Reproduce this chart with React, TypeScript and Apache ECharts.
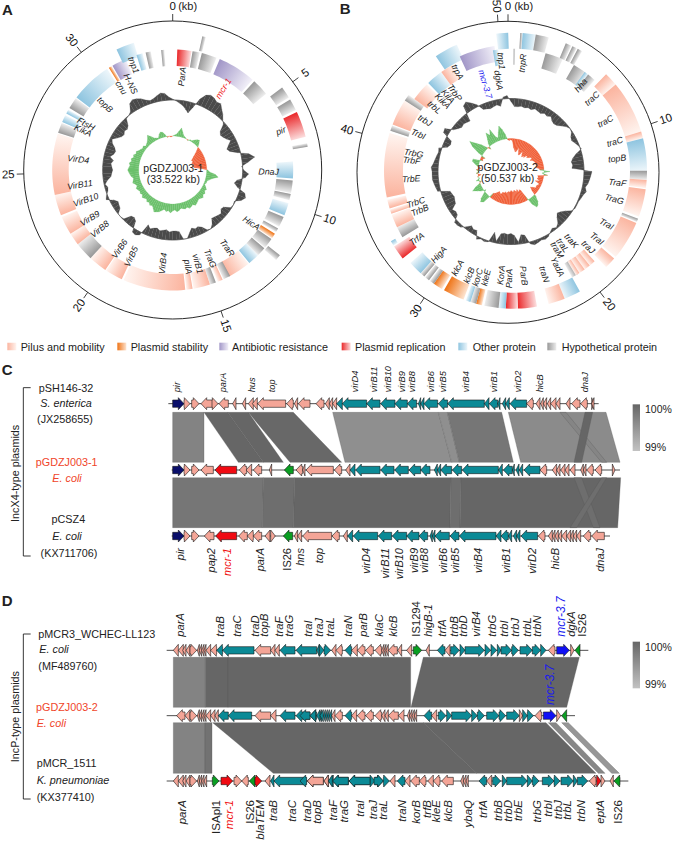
import React, { useEffect, useRef } from "react";
import * as echarts from "echarts";

const FONT = "Liberation Sans";

// ---------- circular maps ----------
const lengthA = 33.522;
const lengthB = 50.537;
const tickLabelsA = [0, 5, 10, 15, 20, 25, 30];
const tickLabelsB = [0, 10, 20, 30, 40, 50];

const CAT: any = {
  P: ["#fbb5a0", "#fff3ee"],
  S: ["#ef7417", "#fde3cf"],
  A: ["#a297c8", "#f1eff8"],
  R: ["#ea2a2c", "#fcdcdc"],
  O: ["#8fc5e0", "#ebf5fa"],
  H: ["#999999", "#ececec"],
};
const legendNames = [
  ["P", "Pilus and mobility"],
  ["S", "Plasmid stability"],
  ["A", "Antibiotic resistance"],
  ["R", "Plasmid replication"],
  ["O", "Other protein"],
  ["H", "Hypothetical protein"],
];

// [saturated end, pale end, category, track] in degrees round the plasmid
const genesA: any[] = [
  [2.2, 9, "R", 0], [9.5, 13, "H", 0], [12.5, 14, "H", 1], [14, 21.3, "H", 0], [23, 41.5, "A", 0], [42.6, 50.8, "H", 0],
  [53, 58, "H", 1], [59, 64, "H", 1], [65, 76, "R", 1], [80.2, 78.7, "H", 1], [94, 86, "O", 0], [95, 101, "H", 0],
  [101.5, 104.5, "H", 0], [112, 106, "O", 0], [113, 118, "H", 0], [119, 121, "H", 0], [122, 124.5, "S", 0], [125, 130, "H", 0],
  [128.5, 131, "H", 1], [130.5, 135, "H", 0], [140.5, 135, "O", 0], [152, 141, "P", 0], [151.5, 155, "H", 0], [155.5, 158, "P", 0],
  [159, 162, "H", 0], [162, 170, "P", 0], [170.5, 173.5, "P", 0], [174, 204, "P", 0], [205, 213.5, "P", 0], [214, 223, "P", 0],
  [223, 232, "H", 0], [232, 238, "P", 0], [238, 247, "P", 0], [248, 258, "P", 0], [258, 287.5, "P", 0], [288, 293, "H", 0],
  [293.5, 297, "O", 0], [298, 300, "O", 0], [301, 306.5, "H", 0], [307, 327, "O", 0], [328, 329.5, "S", 0], [330, 337, "A", 0],
  [335, 343, "O", 2], [342.5, 345.5, "O", 0], [347, 349.5, "H", 0], [354.5, 356, "H", 0],
];
const genesB: any[] = [
  [358, 353, "O", 1], [0.3, 1, "H", 0], [3, 4, "H", 1], [4, 9.5, "O", 1], [9.5, 15, "H", 1], [15.5, 24, "H", 0],
  [22.5, 25, "H", 1], [25.5, 27.5, "H", 1], [28, 30, "H", 1], [30, 37, "H", 0], [36, 38, "O", 0], [38, 42, "H", 0],
  [44, 50, "P", 2], [50, 73, "P", 2], [73, 76, "P", 2], [76, 90, "O", 2], [90, 94, "H", 2], [94, 97.5, "P", 2],
  [98, 110, "P", 2], [111, 112.5, "H", 2], [113, 130, "P", 2], [131, 136, "P", 2], [148, 151, "H", 0], [138, 141, "P", 0],
  [141, 144, "P", 0], [144, 147, "P", 0], [147, 149, "P", 0], [151, 158, "O", 1], [158, 165, "P", 1], [178, 170, "R", 1],
  [183, 178, "R", 1], [183, 186, "O", 1], [186, 192, "H", 1], [195.5, 193, "S", 1], [195.5, 198, "H", 1], [198, 200, "O", 1],
  [210, 201, "S", 1], [215, 211, "S", 1], [215, 217, "H", 1], [217.5, 219.5, "H", 1], [220, 222, "H", 1], [222, 228, "O", 1],
  [240, 238, "O", 3], [231.5, 237.5, "R", 5], [239, 244, "H", 4], [244, 250, "P", 4], [250.5, 252.5, "P", 4], [253, 257, "P", 4],
  [258, 287, "P", 4], [288, 290.5, "H", 4], [291, 303, "P", 4], [303, 306, "H", 4], [306, 315, "P", 0], [316, 324, "O", 0],
  [324, 330, "P", 0], [326, 336, "O", 1], [335, 351.5, "A", 6], [350.5, 353, "O", 0],
];
const tracksA = [[104, 120.5], [122, 137], [118, 133]];
const tracksB = [[106, 122], [122, 138], [117, 134], [136, 141], [110, 129], [123, 141], [110, 126]];

// [name, degrees, distance from centre]
const labelsA: any[] = [
  ["ParA", 5.7, 94], ["mcr-1", 31.8, 96], ["pir", 70, 115], ["DnaJ", 91, 96], ["HicA", 124, 95], ["TraR", 145, 95],
  ["TraG", 157, 96], ["virB1", 165, 97], ["pilA", 171, 98], ["VirB4", 186, 94], ["VirB5", 205.7, 96], ["VirB6", 214, 95],
  ["VirB8", 231, 94], ["VirB9", 239.7, 96], ["VirB10", 251, 92], ["VirB11", 261, 94], ["VirD4", 276.5, 95], ["KikA", 293.8, 98],
  ["FtsH", 298, 98], ["topB", 314, 94], ["cnu", 328, 97], ["H-NS", 334, 96], ["tnp1", 339.6, 112],
];
const labelsB: any[] = [
  ["tnp1", 355, 111], ["tnpR", 6, 109], ["dgkA", 352.3, 92], ["mcr-3.7", 343.6, 91], ["trpA", 331.8, 113], ["TrbP", 324.5, 97],
  ["KilA", 320, 98], ["KikA", 315.8, 98], ["trbL", 310, 100], ["trbJ", 300.7, 100], ["TrbI", 292, 100], ["TrbG", 280.6, 99],
  ["TrbF", 276.3, 100], ["TrbE", 265.8, 100], ["TrbC", 252, 100], ["TrbB", 247, 99], ["TrfA", 234.4, 116], ["HigA", 221, 110],
  ["klcA", 209, 110], ["klcB", 202, 112], ["korC", 197.5, 111], ["kleE", 193.3, 109], ["KorA", 185.5, 104], ["ParA", 181, 107],
  ["ParB", 173, 105], ["traN", 162, 108], ["YadA", 154, 106], ["traM", 149.6, 91], ["traL", 145, 90], ["traK", 139, 92],
  ["traJ", 134.4, 108], ["TraI", 128, 109], ["TraI", 118.7, 109], ["TraG", 105, 107], ["TraF", 96, 107], ["topB", 83, 107],
  ["traC", 74, 108], ["traC", 62, 107], ["traC", 48, 109], ["hha", 39, 111],
];

// signed values, one every 3 degrees
const gcContentA = [
  1, -1, -3, -5, -8, -11, -4, 6, 12, 14, 13, 11, 12, 8, 5, 1, -2, -9, -11, -10,
  -8, -5, -9, -12, -10, -3, 8, 13, 6, -1, 1, 6, 3, -5, -7, -3, 6, 8, 5, -1,
  0, -1, -7, -8, -5, -6, -7, -8, -3, 0, -1, -6, -8, -7, -9, -5, 0, 0, -8, -9,
  -9, -8, -10, -9, -8, -10, -9, -7, -10, 3, 5, 4, -7, -9, -8, -1, 0, 0, -5, -6,
  -7, -4, 3, 1, -2, -3, -1, -4, -8, -9, -10, -9, -8, -10, -6, -9, -10, -8, -4, -2,
  -6, -9, -10, -8, -9, -7, -1, 0, 2, 9, 11, 10, 8, 5, 3, 4, 6, 8, 7, 3,
];
const gcContentB = [
  -3, -8, -8, -7, -8, -7, -8, -6, -7, -8, -6, -7, -5, -8, -9, -8, -5, -2, 0, -1,
  -4, -5, -3, -1, 1, -6, -10, -12, -11, -12, 8, 7, 6, 5, 3, 5, 3, 2, 1, 1,
  1, -1, -6, -9, -11, -8, -3, -1, -3, -1, 2, 3, 2, 3, 4, 2, -8, -9, -2, -9,
  -11, -10, -11, -10, -2, -10, 1, 2, 1, 3, -5, -4, -6, -2, 2, 3, 3, -4, -5, -3,
  -9, -10, -11, -10, -9, 3, 4, 5, 6, 6, 6, 7, 5, 4, 3, 2, 3, -5, -7, -6,
  5, 6, -2, -5, -7, -6, -7, -8, 8, 10, 6, 2, -5, -6, -7, -6, -5, -7, 2, 3,
];
const gcSkewA = [
  0, 1, 2, 5, 9, 5, 2, 1, 0, -1, 1, 1, 3, 5, 6, 3, 0, -3, -6, -9,
  -11, -13, -12, -13, -14, -13, -13, -14, -12, -6, 1, 3, 9, 12, 7, 4, 2, 2, 1, 3,
  5, 4, 6, 5, 7, 6, 5, 6, 7, 8, 6, 7, 8, 6, 7, 6, 5, 7, 8, 6,
  7, 9, 7, 8, 6, 8, 10, 11, 12, 9, 7, 8, 6, 7, 5, 6, 7, 5, 6, 5,
  6, 7, 5, 6, 8, 7, 6, 8, 9, 10, 11, 10, 9, 10, 8, 9, 7, 8, 6, 7,
  5, 4, 3, 4, 2, 3, 4, 6, 9, 6, 3, 2, 1, 4, 6, 5, 2, -1, 0, -1,
];
const gcSkewB = [
  -1, -3, -9, -11, -13, -12, -8, -12, -15, -14, -10, -13, -15, -13, -14, -10, -12, -11, -9, -8,
  -11, -9, -8, -7, -9, -6, -7, -8, -5, -4, 6, -2, 4, -6, -5, -6, -3, -7, -2, -3,
  -4, -3, -6, -8, -5, 2, 7, 10, 11, 6, -5, -12, -13, -11, -14, -12, -13, -14, -12, -13,
  -14, -12, -13, -12, -11, -12, -10, -11, -8, -9, -10, -8, -6, -5, 8, 10, 7, 2, -2, 3,
  6, 10, 6, 1, -2, 3, -1, 1, -3, 2, -1, 2, -3, 1, 4, 7, 7, -3, -2, -4,
  5, 13, 18, 12, 7, 1, -3, 3, 7, 13, 9, 14, 5, 3, 8, 14, 10, 5, -1, -2,
];

// ---------- linear maps (positions are map units) ----------
const rowsC = [1211, 1410, 1608];
const rowsD = [1951, 2147, 2343];
const spansC = [[505, 1796], [515, 1860], [515, 1830]];
const spansD = [[500, 1765], [500, 1725], [500, 1885]];

// [tail, head, kind]; the first list of a row holds left-hand readings, the second is shifted by 900
const C1a: any[] = [[518, 552, "n"], [552, 570, "s"], [575, 597, "s"], [640, 603, "s"], [636, 654, "s"], [685, 657, "s"], [708, 698, "s"], [737, 727, "s"], [760, 745, "s"], [772, 757, "s"], [857, 773, "s"], [880, 860, "s"], [893, 883, "s"], [930, 895, "s"]];
const C1b: any[] = [[72, 48, "s"], [88, 76, "s"], [98, 88, "s"], [110, 98, "s"], [127, 110, "t"], [200, 127, "t"], [240, 200, "t"], [285, 242, "t"], [322, 285, "t"], [350, 322, "t"], [362, 355, "t"], [372, 362, "t"], [413, 372, "t"], [443, 415, "t"], [553, 443, "t"], [567, 553, "t"], [593, 568, "t"], [600, 593, "t"], [617, 607, "t"], [628, 617, "t"], [680, 630, "t"], [700, 680, "s"], [720, 708, "s"], [730, 722, "s"], [740, 730, "s"], [752, 742, "s"], [768, 752, "s"], [780, 768, "s"], [810, 798, "s"], [840, 815, "s"], [862, 842, "s"], [875, 882, "s"], [882, 875, "s"]];
const C2a: any[] = [[518, 552, "n"], [552, 570, "s"], [575, 597, "s"], [640, 603, "s"], [710, 645, "r"], [740, 718, "s"], [755, 738, "s"], [785, 760, "s"], [815, 808, "s"], [880, 853, "g"], [908, 888, "s"], [915, 908, "s"]];
const C2b: any[] = [[100, 18, "s"], [125, 103, "s"], [150, 137, "s"], [165, 150, "t"], [240, 167, "t"], [282, 242, "t"], [325, 284, "t"], [362, 327, "t"], [390, 362, "t"], [412, 403, "t"], [422, 412, "t"], [455, 422, "t"], [485, 457, "t"], [595, 487, "t"], [607, 595, "t"], [637, 610, "t"], [643, 637, "t"], [657, 648, "t"], [668, 658, "t"], [720, 672, "t"], [740, 720, "s"], [770, 757, "s"], [780, 770, "s"], [795, 782, "s"], [807, 795, "s"], [825, 810, "s"], [850, 842, "s"], [858, 850, "s"], [880, 860, "s"], [905, 885, "s"], [937, 945, "s"]];
const C3a: any[] = [[518, 552, "n"], [552, 570, "s"], [575, 597, "s"], [642, 613, "s"], [710, 647, "r"], [742, 716, "s"], [760, 742, "s"], [785, 760, "s"], [810, 795, "s"], [812, 826, "s"], [878, 850, "g"], [893, 883, "s"], [905, 893, "s"]];
const C3b: any[] = [[95, 8, "s"], [118, 96, "s"], [142, 130, "s"], [158, 143, "t"], [233, 160, "t"], [275, 235, "t"], [320, 277, "t"], [357, 320, "t"], [383, 357, "t"], [397, 390, "t"], [405, 397, "t"], [448, 405, "t"], [477, 450, "t"], [588, 478, "t"], [603, 588, "t"], [625, 603, "t"], [635, 625, "t"], [650, 640, "t"], [660, 650, "t"], [713, 663, "t"], [735, 715, "s"], [757, 745, "s"], [765, 757, "s"], [775, 765, "s"], [785, 775, "s"], [800, 785, "s"], [812, 800, "s"], [820, 812, "s"], [830, 820, "s"], [842, 830, "s"], [872, 850, "s"], [913, 875, "s"]];
const D1a: any[] = [[535, 520, "s"], [550, 535, "s"], [558, 548, "s"], [570, 558, "s"], [570, 590, "s"], [598, 592, "s"], [605, 598, "s"], [612, 605, "s"], [618, 612, "s"], [632, 618, "s"], [650, 632, "s"], [668, 650, "t"], [762, 668, "t"], [812, 765, "s"], [825, 812, "s"], [838, 825, "s"], [885, 840, "t"], [950, 888, "t"], [958, 950, "t"], [958, 972, "t"], [972, 992, "t"], [1008, 995, "s"], [1027, 1008, "s"]];
const D1b: any[] = [[155, 135, "t"], [172, 155, "s"], [195, 172, "s"], [220, 197, "s"], [245, 225, "s"], [252, 245, "s"], [258, 252, "s"], [265, 258, "s"], [292, 265, "s"], [305, 293, "s"], [335, 320, "s"], [340, 365, "g"], [388, 378, "s"], [435, 412, "t"], [450, 435, "s"], [452, 478, "t"], [480, 495, "t"], [495, 553, "t"], [555, 572, "t"], [573, 590, "t"], [592, 603, "t"], [603, 635, "t"], [635, 655, "t"], [660, 697, "t"], [697, 722, "t"], [722, 738, "t"], [765, 745, "s"], [770, 808, "b"], [812, 822, "s"], [840, 825, "g"]];
const D2a: any[] = [[555, 530, "s"], [570, 555, "s"], [570, 590, "s"], [598, 592, "s"], [605, 598, "s"], [612, 605, "s"], [618, 612, "s"], [632, 618, "s"], [645, 632, "s"], [655, 645, "s"], [685, 655, "t"], [755, 685, "t"], [812, 765, "s"], [828, 812, "s"], [885, 840, "t"], [930, 888, "t"], [950, 930, "t"], [965, 955, "t"]];
const D2b: any[] = [[30, 0, "t"], [47, 30, "t"], [60, 50, "t"], [70, 60, "t"], [76, 70, "t"], [82, 76, "t"], [88, 82, "t"], [95, 88, "t"], [105, 95, "s"], [127, 105, "s"], [155, 135, "t"], [170, 155, "s"], [195, 172, "s"], [220, 197, "s"], [245, 225, "s"], [255, 245, "s"], [265, 255, "s"], [295, 265, "s"], [312, 295, "s"], [329, 322, "s"], [336, 329, "s"], [343, 336, "s"], [350, 343, "s"], [395, 372, "t"], [410, 395, "s"], [415, 438, "t"], [440, 455, "t"], [455, 515, "t"], [515, 532, "t"], [532, 553, "t"], [560, 597, "t"], [597, 617, "t"], [620, 658, "t"], [658, 668, "s"], [668, 682, "t"], [682, 700, "t"], [725, 705, "s"], [730, 768, "b"], [770, 782, "s"], [800, 785, "g"]];
const D3a: any[] = [[535, 520, "s"], [550, 535, "s"], [558, 548, "s"], [570, 558, "s"], [570, 590, "s"], [598, 592, "s"], [605, 598, "s"], [612, 605, "s"], [620, 612, "s"], [637, 657, "g"], [663, 698, "r"], [702, 725, "s"], [745, 725, "s"], [765, 748, "g"], [765, 785, "r"], [810, 795, "s"], [822, 812, "t"], [918, 822, "t"], [970, 922, "s"], [985, 972, "s"], [1000, 985, "t"], [1045, 998, "t"], [1107, 1047, "t"], [1110, 1125, "t"], [1125, 1150, "t"]];
const D3b: any[] = [[20, 0, "t"], [70, 22, "s"], [85, 72, "s"], [97, 85, "t"], [145, 98, "t"], [210, 147, "t"], [222, 250, "t"], [250, 268, "t"], [285, 270, "s"], [315, 292, "t"], [330, 315, "s"], [358, 332, "s"], [378, 358, "s"], [400, 383, "s"], [420, 400, "s"], [460, 425, "s"], [490, 482, "s"], [498, 490, "s"], [505, 498, "s"], [560, 537, "t"], [575, 560, "s"], [578, 602, "t"], [607, 620, "t"], [620, 682, "t"], [682, 697, "t"], [697, 717, "t"], [727, 762, "t"], [762, 780, "t"], [783, 820, "t"], [820, 832, "t"], [832, 863, "t"], [888, 868, "s"], [890, 903, "r"], [903, 915, "s"], [940, 930, "s"], [960, 942, "g"]];

const KIND: any = { n: "#0a0f6b", s: "#f4a597", t: "#0b8a96", r: "#f00a12", g: "#0a9e22", b: "#1010f5" };

// [upper left, upper right, lower right, lower left, identity %]
const linksC12 = [[518, 612, 612, 518, 99.65], [612, 683, 790, 715, 100], [683, 745, 850, 790, 100], [745, 880, 1025, 870, 99.98], [998, 1315, 1355, 1035, 99.5], [1315, 1342, 1378, 1355, 99.5], [1342, 1505, 1540, 1378, 99.8], [1525, 1818, 1860, 1562, 99.55], [1680, 1698, 1820, 1805, 99.62], [1755, 1778, 1745, 1722, 100]];
const linksC23 = [[518, 790, 787, 518, 99.8], [790, 884, 880, 787, 99.9], [884, 1353, 1350, 880, 100], [1353, 1383, 1380, 1350, 99.9], [1383, 1862, 1853, 1380, 100], [1722, 1745, 1800, 1780, 99.9], [1805, 1820, 1730, 1710, 99.9]];
const linksD12 = [[520, 616, 616, 520, 99.65], [616, 684, 684, 616, 100], [684, 1232, 1232, 684, 100], [1270, 1738, 1700, 1233, 100]];
const linksD23 = [[520, 615, 615, 520, 99.65], [615, 636, 636, 615, 99.85], [638, 1270, 1430, 820, 100], [1270, 1638, 1788, 1430, 100], [1645, 1668, 1815, 1795, 99.6], [1685, 1705, 1858, 1835, 99.4]];

const topLabelsC: any[] = [["pir", 530], ["parA", 668], ["hus", 755], ["top", 815], ["virD4", 1065], ["virB11", 1122], ["virB10", 1163], ["virB9", 1205], ["virB8", 1235], ["virB6", 1292], ["virB5", 1330], ["virB4", 1397], ["virB1", 1482], ["virD2", 1555], ["hicB", 1620], ["dnaJ", 1755]];
const bottomLabelsC: any[] = [["pir", 540], ["pap2", 632], ["mcr-1", 680], ["parA", 780], ["IS26", 862], ["hns", 900], ["top", 958], ["virD4", 1097], ["virB11", 1155], ["virB10", 1197], ["virB9", 1242], ["virB8", 1273], ["virB6", 1328], ["virB5", 1365], ["virB4", 1435], ["virB1", 1518], ["virD2", 1595], ["hicB", 1665], ["dnaJ", 1800]];
const topLabelsD: any[] = [["parA", 540], ["traB", 660], ["traC", 712], ["traD", 765], ["topB", 792], ["traF", 838], ["traG", 868], ["traI", 925], ["traJ", 958], ["traL", 990], ["traN", 1045], ["parB", 1088], ["klaC", 1137], ["klcB", 1180], ["IS1294", 1248], ["higB-1", 1285], ["trfA", 1325], ["trbB", 1362], ["trbD", 1390], ["virB4", 1428], ["trbG", 1477], ["trbI", 1512], ["trbJ", 1545], ["trbL", 1580], ["trbN", 1610], ["mcr-3.7", 1683], ["dgkA", 1713], ["IS26", 1745]];
const bottomLabelsD: any[] = [["parA", 545], ["ISApl1", 648], ["mcr-1", 688], ["IS26", 750], ["blaTEM", 780], ["traB", 818], ["traC", 875], ["traD", 920], ["topB", 952], ["traF", 1000], ["traG", 1032], ["traI", 1080], ["traJ", 1120], ["traL", 1150], ["traN", 1205], ["korB", 1248], ["trfB", 1280], ["kleE", 1308], ["klcB", 1343], ["ybaQ", 1405], ["trfA", 1450], ["trbB", 1495], ["trbD", 1525], ["trbE", 1555], ["trbG", 1610], ["trbI", 1643], ["trbJ", 1675], ["trbL", 1700], ["trbN", 1743], ["eptA", 1800], ["IS26", 1855]];
const bracketsCD = [[1163, 1668], [1902, 2397]];

const RED = "#f0442a";
const BLUE = "#1a1aef";
function shift(list: any[], by: number) {
  return list.map((a) => [a[0] + by, a[1] + by, a[2]]);
}
function grayFor(id: number) {
  const t = Math.max(0, Math.min(1, id - 99));
  const v = Math.round(0xb8 + (0x66 - 0xb8) * t);
  return `rgb(${v},${v},${v})`;
}
function ringRotation(deg: number) {
  const d = ((deg % 360) + 360) % 360;
  return (((d < 180 ? 90 : 270) - d) * Math.PI) / 180;
}

export default function App() {
  const ref = useRef<HTMLDivElement>(null);
  useEffect(() => {
    const chart = echarts.init(ref.current!, undefined, { renderer: "svg" });

    const L2 = { cur: 1 };
    const arc = (api: any, r: number, a: number, b: number) => {
      const n = Math.max(2, Math.ceil(Math.abs(b - a) / ((L2.cur / 360) * 2)));
      const pts = [];
      for (let i = 0; i <= n; i++) pts.push(api.coord([r, a + ((b - a) * i) / n]).slice(0, 2));
      return pts;
    };

    const geneSeries = (genes: any[], L: number, tracks: number[][], polarIndex: number) => ({
      type: "custom",
      coordinateSystem: "polar",
      polarIndex,
      silent: true,
      data: genes.map((g) => [tracks[g[3]][0], (g[0] * L) / 360]),
      renderItem: (p: any, api: any) => {
        const g = genes[p.dataIndex];
        const [r0, r1] = tracks[g[3]];
        const from = (g[0] * L) / 360;
        const to = (g[1] * L) / 360;
        L2.cur = L;
        const a = api.coord([(r0 + r1) / 2, from]);
        const b = api.coord([(r0 + r1) / 2, to]);
        return {
          type: "polygon",
          shape: { points: [...arc(api, r1, from, to), ...arc(api, r0, to, from)] },
          style: {
            fill: {
              type: "linear", global: true, x: a[0], y: a[1], x2: b[0], y2: b[1],
              colorStops: [{ offset: 0, color: CAT[g[2]][0] }, { offset: 1, color: CAT[g[2]][1] }],
            },
          },
        };
      },
    });

    const histSeries = (vals: number[], L: number, base: number, polarIndex: number, pos: string, neg: string) => ({
      type: "custom",
      coordinateSystem: "polar",
      polarIndex,
      silent: true,
      data: vals.map((v, i) => [base + v, (i * 3 * L) / 360]),
      renderItem: (p: any, api: any) => {
        const i = p.dataIndex;
        const v0 = vals[i];
        const v1 = vals[(i + 1) % vals.length];
        const a = (i * 3 * L) / 360;
        const b = ((i + 1) * 3 * L) / 360;
        const col = v0 + v1 >= 0 ? pos : neg;
        const pts = [[base, a], [base, b], [base + v1, b], [base + v0, a]].map((q) => api.coord(q).slice(0, 2));
        return { type: "polygon", shape: { points: pts }, style: { fill: col, stroke: col, lineWidth: 0.2 } };
      },
    });

    const baseRing = (L: number, base: number, polarIndex: number, color: string) => ({
      type: "custom",
      coordinateSystem: "polar",
      polarIndex,
      silent: true,
      data: [[base, 0]],
      renderItem: (_p: any, api: any) => {
        L2.cur = L;
        return {
          type: "polyline",
          shape: { points: arc(api, base, 0, L) },
          style: { fill: "none", stroke: color, lineWidth: 0.6 },
        };
      },
    });

    const tickSeries = (ticks: number[], L: number, R: number, polarIndex: number) => ({
      type: "custom",
      coordinateSystem: "polar",
      polarIndex,
      silent: true,
      data: ticks.map((t) => [R, t]),
      renderItem: (p: any, api: any) => {
        const t = ticks[p.dataIndex];
        const a = api.coord([R, t]);
        const b = api.coord([R + 7, t]);
        const c = api.coord([R + 15.5, t]);
        return {
          type: "group",
          children: [
            { type: "line", shape: { x1: a[0], y1: a[1], x2: b[0], y2: b[1] }, style: { stroke: "#111", lineWidth: 0.8 } },
            {
              type: "text", x: c[0], y: c[1], rotation: t === 0 ? 0 : ringRotation((t / L) * 360),
              style: { text: String(t), fontFamily: FONT, fontSize: 11.5, fill: "#111", align: "center", verticalAlign: "middle" },
            },
          ],
        };
      },
    });

    const labelSeries = (labels: any[], L: number, polarIndex: number) => ({
      type: "custom",
      coordinateSystem: "polar",
      polarIndex,
      silent: true,
      z: 3,
      data: labels.map((l) => [l[2], (l[1] * L) / 360]),
      renderItem: (p: any, api: any) => {
        const l = labels[p.dataIndex];
        const c = api.coord([l[2], (l[1] * L) / 360]);
        const fill = l[0] === "mcr-1" ? "#f01010" : l[0] === "mcr-3.7" ? BLUE : "#222";
        return {
          type: "text", x: c[0], y: c[1], rotation: ringRotation(l[1]),
          style: { text: l[0], fontFamily: FONT, fontSize: 8.8, fontStyle: "italic", fill, align: "center", verticalAlign: "middle" },
        };
      },
    });

    const cart = { coordinateSystem: "cartesian2d", xAxisIndex: 0, yAxisIndex: 0, silent: true, clip: false };

    const linkSeries = (links: number[][], y0: number, y1: number) => ({
      type: "custom", ...cart,
      data: links.map((l) => [l[0], y0]),
      renderItem: (p: any, api: any) => {
        const l = links[p.dataIndex];
        const pts = [api.coord([l[0], y0]), api.coord([l[1], y0]), api.coord([l[2], y1]), api.coord([l[3], y1])];
        return { type: "polygon", shape: { points: pts }, style: { fill: grayFor(l[4]), stroke: "#555", lineWidth: 0.3 } };
      },
    });

    const rowSeries = (arrows: any[], y: number) => ({
      type: "custom", ...cart,
      data: arrows.map((a) => [a[0], y]),
      renderItem: (p: any, api: any) => {
        const [tail, head, kind] = arrows[p.dataIndex];
        const s = head > tail ? 1 : -1;
        const len = Math.abs(head - tail);
        const hl = Math.min(len, 17);
        const neck = head - s * hl;
        const ys = [-18, -11, 11, 18].map((d) => y + d);
        const pts = len <= 17
          ? [[tail, ys[0]], [head, y], [tail, ys[3]]]
          : [[tail, ys[1]], [neck, ys[1]], [neck, ys[0]], [head, y], [neck, ys[3]], [neck, ys[2]], [tail, ys[2]]];
        return {
          type: "polygon", shape: { points: pts.map((q) => api.coord(q)) },
          style: { fill: KIND[kind], stroke: "#1a1a1a", lineWidth: 0.6 },
        };
      },
      z: 3,
    });
    const rowLine = (y: number, span: number[]) => ({
      type: "custom", ...cart, z: 2,
      data: [[span[0], y]],
      renderItem: (_p: any, api: any) => {
        const a = api.coord([span[0], y]);
        const b = api.coord([span[1], y]);
        return { type: "line", shape: { x1: a[0], y1: a[1], x2: b[0], y2: b[1] }, style: { stroke: "#222", lineWidth: 0.8 } };
      },
    });

    const texts: any[] = [];
    const T = (t: string, x: number, y: number, size: number, o: any = {}) => texts.push({ t, x, y, size, ...o });
    T("A", 6, 27, 15, { bold: true, align: "left" });
    T("B", 1019, 24, 15, { bold: true, align: "left" });
    T("C", 5, 1108, 15, { bold: true, align: "left" });
    T("D", 5, 1802, 15, { bold: true, align: "left" });
    T("(kb)", 563, 18, 11);
    T("(kb)", 1571, 18, 11);
    T("pGDZJ003-1", 520, 503, 10.5);
    T("(33.522 kb)", 520, 538, 10.5);
    T("pGDZJ003-2", 1523, 500, 10.5);
    T("(50.537 kb)", 1523, 535, 10.5);
    const legendX = [[22, 62], [352, 392], [658, 696], [1025, 1065], [1375, 1418], [1642, 1685]];
    legendNames.forEach((n, i) => T(n[1], legendX[i][1], 1040, 10.8, { align: "left" }));
    T("pSH146-32", 198, 1165, 10.8);
    T("S. enterica", 198, 1210, 10.8, { italic: true });
    T("(JX258655)", 195, 1258, 10.8);
    T("pGDZJ003-1", 200, 1387, 10.8, { fill: RED });
    T("E. coli", 201, 1435, 10.8, { italic: true, fill: RED });
    T("pCSZ4", 205, 1558, 10.8);
    T("E. coli", 201, 1608, 10.8, { italic: true });
    T("(KX711706)", 207, 1660, 10.8);
    T("IncX4-type plasmids", 44, 1420, 10.8, { rot: Math.PI / 2 });
    T("pMCR3_WCHEC-LL123", 115, 1903, 10.8, { align: "left" });
    T("E. coli", 118, 1948, 10.8, { italic: true, align: "left" });
    T("(MF489760)", 115, 1998, 10.8, { align: "left" });
    T("pGDZJ003-2", 108, 2120, 10.8, { align: "left", fill: RED });
    T("E. coli", 110, 2170, 10.8, { italic: true, align: "left", fill: RED });
    T("pMCR_1511", 110, 2290, 10.8, { align: "left" });
    T("K. pneumoniae", 110, 2340, 10.8, { italic: true, align: "left" });
    T("(KX377410)", 110, 2390, 10.8, { align: "left" });
    T("IncP-type plasmids", 44, 2150, 10.8, { rot: Math.PI / 2 });
    T("100%", 1935, 1227, 10.5, { align: "left" });
    T("99%", 1935, 1340, 10.5, { align: "left" });
    T("100%", 1935, 1940, 10.5, { align: "left" });
    T("99%", 1935, 2053, 10.5, { align: "left" });
    T("mcr-3.7", 1650, 2115, 12, { italic: true, fill: BLUE, align: "left", rot: Math.PI / 2 });
    const vlabel = (list: any[], y: number, size: number, align: string) =>
      list.forEach(([name, x]: any) =>
        T(name, x, y, name === "mcr-3.7" ? 12 : size, {
          align, rot: Math.PI / 2,
          italic: !name.startsWith("IS"),
          fill: name === "mcr-1" ? "#f01010" : name === "mcr-3.7" ? BLUE : "#222",
        }));
    vlabel(topLabelsC, 1177, 9.3, "left");
    vlabel(bottomLabelsC, 1644, 11, "right");
    vlabel(topLabelsD, 1910, 11.2, "left");
    vlabel(bottomLabelsD, 2400, 11.5, "right");

    const textSeries = {
      type: "custom", ...cart, z: 5,
      data: texts.map((t) => [t.x, t.y]),
      renderItem: (p: any, api: any) => {
        const t = texts[p.dataIndex];
        const c = api.coord([t.x, t.y]);
        return {
          type: "text", x: c[0], y: c[1], rotation: t.rot || 0,
          style: {
            text: t.t, fontFamily: FONT, fontSize: t.size, fontStyle: t.italic ? "italic" : "normal",
            fontWeight: t.bold ? "bold" : "normal", fill: t.fill || "#222", align: t.align || "center", verticalAlign: "middle",
          },
        };
      },
    };

    const swatches = {
      type: "custom", ...cart, z: 4,
      data: legendNames.map((n, i) => [legendX[i][0], 1040]),
      renderItem: (p: any, api: any) => {
        const x = legendX[p.dataIndex][0];
        const a = api.coord([x, 1028]);
        const b = api.coord([x + 27, 1051]);
        const c = CAT[legendNames[p.dataIndex][0]];
        return {
          type: "rect", shape: { x: a[0], y: a[1], width: b[0] - a[0], height: b[1] - a[1] },
          style: { fill: { type: "linear", x: 0, y: 0, x2: 1, y2: 0, colorStops: [{ offset: 0, color: c[0] }, { offset: 1, color: c[1] }] } },
        };
      },
    };
    const scales = {
      type: "custom", ...cart, z: 4,
      data: [[1898, 1213], [1898, 1925]],
      renderItem: (p: any, api: any) => {
        const y = p.dataIndex === 0 ? 1213 : 1925;
        const a = api.coord([1898, y]);
        const b = api.coord([1920, y + 140]);
        return {
          type: "rect", shape: { x: a[0], y: a[1], width: b[0] - a[0], height: b[1] - a[1] },
          style: { fill: { type: "linear", x: 0, y: 0, x2: 0, y2: 1, colorStops: [{ offset: 0, color: "#666" }, { offset: 1, color: "#c2c2c2" }] } },
        };
      },
    };
    const brackets = {
      type: "custom", ...cart, z: 4,
      data: bracketsCD.map((b) => [70, b[0]]),
      renderItem: (p: any, api: any) => {
        const [y0, y1] = bracketsCD[p.dataIndex];
        const pts = [[92, y0], [70, y0], [70, y1], [92, y1]].map((q) => api.coord(q));
        return { type: "polyline", shape: { points: pts }, style: { fill: "none", stroke: "#222", lineWidth: 0.9 } };
      },
    };

    const hiddenAngle = (i: number, L: number) => ({ polarIndex: i, min: 0, max: L, startAngle: 90, clockwise: true, show: false });
    const shownAngle = (i: number, L: number) => ({
      polarIndex: i, min: 0, max: L, startAngle: 90, clockwise: true,
      axisLine: { show: true, lineStyle: { color: "#111", width: 0.9 } },
      axisTick: { show: false }, axisLabel: { show: false }, splitLine: { show: false }, splitArea: { show: false },
    });
    const rAxis = (i: number, R: number) => ({ polarIndex: i, min: 0, max: R, show: false });

    chart.setOption({
      animation: false,
      backgroundColor: "#fff",
      polar: [
        { center: [172.7, 170], radius: [0, 149] },
        { center: [508, 172.3], radius: [0, 151] },
        { center: [513, 170.7], radius: [0, 150] },
        { center: [511, 171.5], radius: [0, 150] },
      ],
      angleAxis: [shownAngle(0, lengthA), shownAngle(1, lengthB), hiddenAngle(2, lengthB), hiddenAngle(3, lengthB)],
      radiusAxis: [rAxis(0, 149), rAxis(1, 151), rAxis(2, 150), rAxis(3, 150)],
      grid: { left: 0, top: 0, right: 0, bottom: 0 },
      xAxis: { type: "value", min: 0, max: 2022, show: false },
      yAxis: { type: "value", min: 0, max: 2532, inverse: true, show: false },
      series: [
        geneSeries(genesA, lengthA, tracksA, 0),
        baseRing(lengthA, 70, 0, "#444"),
        histSeries(gcContentA, lengthA, 70, 0, "#4a4a4a", "#4a4a4a"),
        histSeries(gcSkewA, lengthA, 34, 0, "#6cc06c", "#f0603a"),
        tickSeries(tickLabelsA, lengthA, 149, 0),
        labelSeries(labelsA, lengthA, 0),
        geneSeries(genesB, lengthB, tracksB, 2),
        baseRing(lengthB, 73, 3, "#444"),
        histSeries(gcContentB, lengthB, 73, 3, "#4a4a4a", "#4a4a4a"),
        histSeries(gcSkewB, lengthB, 33, 3, "#6cc06c", "#f0603a"),
        tickSeries(tickLabelsB, lengthB, 151, 1),
        labelSeries(labelsB, lengthB, 3),
        linkSeries(linksC12, 1237, 1387),
        linkSeries(linksC23, 1433, 1583),
        linkSeries(linksD12, 1972, 2122),
        linkSeries(linksD23, 2168, 2320),
        rowLine(rowsC[0], spansC[0]), rowLine(rowsC[1], spansC[1]), rowLine(rowsC[2], spansC[2]),
        rowLine(rowsD[0], spansD[0]), rowLine(rowsD[1], spansD[1]), rowLine(rowsD[2], spansD[2]),
        rowSeries([...C1a, ...shift(C1b, 900)], rowsC[0]),
        rowSeries([...C2a, ...shift(C2b, 900)], rowsC[1]),
        rowSeries([...C3a, ...shift(C3b, 900)], rowsC[2]),
        rowSeries([...D1a, ...shift(D1b, 900)], rowsD[0]),
        rowSeries([...D2a, ...shift(D2b, 900)], rowsD[1]),
        rowSeries([...D3a, ...shift(D3b, 900)], rowsD[2]),
        swatches, scales, brackets, textSeries,
      ],
    });
    return () => chart.dispose();
  }, []);
  return <div ref={ref} style={{ position: "absolute", left: 0, top: 0, width: 674, height: 844 }} />;
}
